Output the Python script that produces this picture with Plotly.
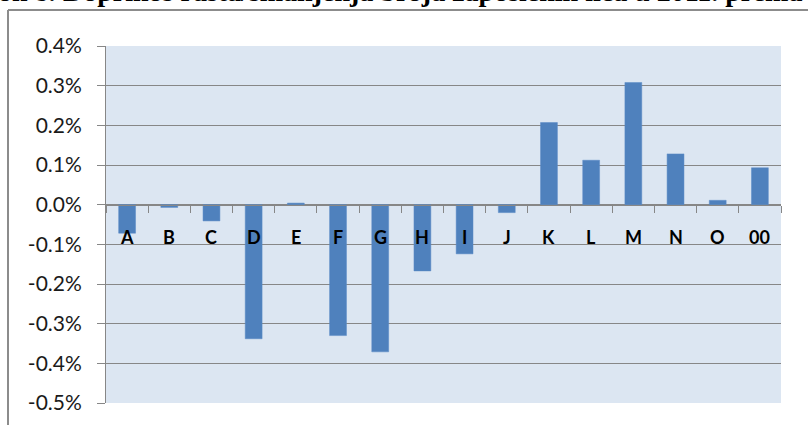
import plotly.graph_objects as go

categories = ["A", "B", "C", "D", "E", "F", "G", "H", "I", "J", "K", "L", "M", "N", "O", "00"]
values = [-0.072, -0.007, -0.041, -0.338, 0.004, -0.330, -0.371, -0.167, -0.124, -0.020,
          0.207, 0.112, 0.308, 0.128, 0.011, 0.093]
y_ticks = [0.4, 0.3, 0.2, 0.1, 0.0, -0.1, -0.2, -0.3, -0.4, -0.5]
y_tick_labels = ["0.4%", "0.3%", "0.2%", "0.1%", "0.0%", "-0.1%", "-0.2%", "-0.3%", "-0.4%", "-0.5%"]
title_left = "Grafikon 8."
title_right = "Doprinos rasta/smanjenja broja zaposlenih lica u 2011. prema djelatnostima"

W, H = 808, 425
L, R, T, B = 106, 27, 46, 22
pw, ph = W - L - R, H - T - B
ymin, ymax = -0.5, 0.4

def px_x(p):
    return (p - L) / pw

def px_y(p):
    return (H - B - p) / ph

grid = "#878787"

fig = go.Figure()
fig.add_trace(go.Bar(
    x=categories, y=values,
    marker=dict(color="#4F81BD", line=dict(color="#5B8BC6", width=0.5)),
    width=0.4,
))

for i, c in enumerate(categories):
    fig.add_annotation(x=i, y=0, xref="x", yref="y", text=c, showarrow=False,
                       yanchor="middle", yshift=-32,
                       font=dict(family="Lato", size=18, color="#000000", weight="bold"))

# title (clipped at top edge as in the reference)
tfont = dict(family="Liberation Serif", size=28, color="#000000", weight="bold")
fig.add_annotation(x=px_x(57), y=px_y(-9), xref="paper", yref="paper", text=title_left,
                   showarrow=False, xanchor="right", yanchor="middle", font=tfont)
fig.add_annotation(x=px_x(61), y=px_y(-9), xref="paper", yref="paper", text=title_right,
                   showarrow=False, xanchor="left", yanchor="middle", font=tfont)

# outer chart border
fig.add_shape(type="line", xref="paper", yref="paper", x0=px_x(8), x1=px_x(8), y0=px_y(440), y1=px_y(10),
              line=dict(color="#8C8C8C", width=2))
fig.add_shape(type="line", xref="paper", yref="paper", x0=px_x(8), x1=px_x(830), y0=px_y(10), y1=px_y(10),
              line=dict(color="#8C8C8C", width=2))

zero_pos = (0 - ymin) / (ymax - ymin)

fig.update_layout(
    width=W, height=H,
    margin=dict(l=L, r=R, t=T, b=B),
    paper_bgcolor="white",
    plot_bgcolor="#DCE6F2",
    showlegend=False,
    xaxis=dict(
        type="category", anchor="free", position=zero_pos,
        showline=True, linecolor=grid, linewidth=1,
        ticks="outside", tickson="boundaries", ticklen=7, tickcolor=grid, tickwidth=1,
        showticklabels=False, showgrid=False, zeroline=False,
        range=[-0.5, len(categories) - 0.5],
    ),
    yaxis=dict(
        range=[ymin, ymax], tickvals=y_ticks, ticktext=y_tick_labels,
        showgrid=True, gridcolor=grid, gridwidth=1, zeroline=False,
        showline=True, linecolor=grid, linewidth=1,
        ticks="outside", ticklen=8, tickcolor=grid,
        ticklabelstandoff=11,
        tickfont=dict(family="Lato", size=21, color="#1A1A1A"),
    ),
)

fig.write_html("out.html", config={"displayModeBar": False},
               post_script="document.body.style.margin='0';document.body.style.overflow='hidden';")
